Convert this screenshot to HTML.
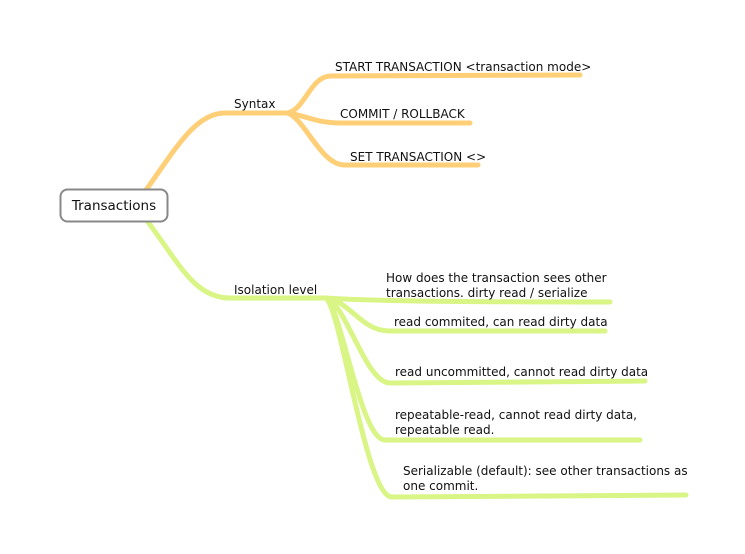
<!DOCTYPE html>
<html><head><meta charset="utf-8"><style>
html,body{margin:0;padding:0;background:#fff;}
svg{display:block;}
text{font-family:"DejaVu Sans","Liberation Sans",sans-serif;font-size:12px;fill:#111;}
</style></head><body>
<svg width="745" height="554" viewBox="0 0 745 554" xmlns="http://www.w3.org/2000/svg">
<g fill="none" stroke-linecap="round">
<g stroke="#ffcf78" stroke-width="5">
<path d="M146,190 C175,150 195,113 225,113 L287,113"/>
<path d="M287,113 C305,110 310,77 330,76 L580,75"/>
<path d="M287,113 C305,115 315,123 340,123 L470,123"/>
<path d="M287,113 C305,118 320,165 345,165 L478,165"/>
</g>
<g stroke="#d9f585" stroke-width="5">
<path d="M148,222 C180,265 195,298 230,298 L325,298"/>
<path d="M325,298 C360,300 400,302 610,302"/>
<path d="M325,298 C350,300 360,331 390,331 L605,331"/>
<path d="M325,298 C345,300 365,383 390,383 L645,381"/>
<path d="M325,298 C340,300 360,440 385,440 L640,440"/>
<path d="M325,298 C340,300 365,497 392,497 L686,495"/>
</g>
</g>
<rect x="60.5" y="189.5" width="107" height="32" rx="7" ry="7" fill="#fff" stroke="#888" stroke-width="2"/>
<text x="114" y="210" text-anchor="middle" style="font-size:13.5px">Transactions</text>
<text x="234" y="108">Syntax</text>
<text x="335" y="71">START TRANSACTION &lt;transaction mode&gt;</text>
<text x="340" y="118">COMMIT / ROLLBACK</text>
<text x="350" y="161">SET TRANSACTION &lt;&gt;</text>
<text x="234" y="294">Isolation level</text>
<text x="386" y="282">How does the transaction sees other</text>
<text x="386" y="297">transactions. dirty read / serialize</text>
<text x="394" y="326">read commited, can read dirty data</text>
<text x="395" y="376">read uncommitted, cannot read dirty data</text>
<text x="395" y="419">repeatable-read, cannot read dirty data,</text>
<text x="395" y="434">repeatable read.</text>
<text x="403" y="475">Serializable (default): see other transactions as</text>
<text x="403" y="490">one commit.</text>
</svg>
</body></html>
